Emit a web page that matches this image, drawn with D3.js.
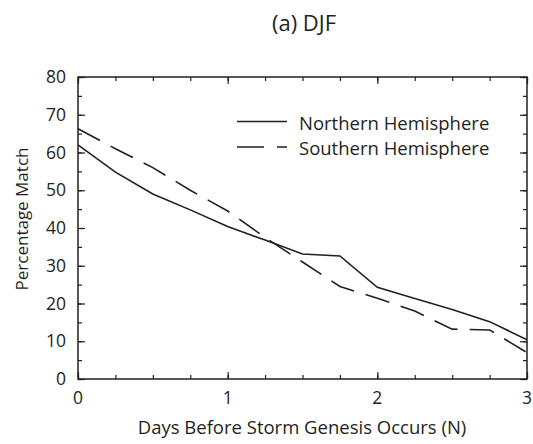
<!DOCTYPE html>
<html>
<head>
<meta charset="utf-8">
<script src="https://cdn.jsdelivr.net/npm/d3@7"></script>
<style>
  body { margin: 0; background: #fff; }
  text { font-family: "Open Sans", "Noto Sans", sans-serif; fill: #231f20; }
</style>
</head>
<body>
<script>
const days = [0, 0.25, 0.5, 0.75, 1, 1.25, 1.5, 1.75, 2, 2.25, 2.5, 2.75, 3];
const northern = [62, 54.8, 49, 44.8, 40.4, 36.8, 33.1, 32.6, 24.3, 21.3, 18.4, 15.2, 10.4];
const southern = [66.3, 61, 56, 50, 44.5, 37.5, 31, 24.5, 21.4, 18, 13.2, 13, 7];
const xTicks = [0, 1, 2, 3];
const yTicks = [0, 10, 20, 30, 40, 50, 60, 70, 80];
const seriesNames = ["Northern Hemisphere", "Southern Hemisphere"];

const width = 533, height = 444;
const margin = {top: 77, right: 6, bottom: 65, left: 78};
const ink = "#231f20";

const svg = d3.select("body").append("svg")
  .attr("width", width)
  .attr("height", height);

const x = d3.scaleLinear().domain([0, 3]).range([margin.left, width - margin.right]);
const y = d3.scaleLinear().domain([0, 80]).range([height - margin.bottom, margin.top]);

// minor + major ticks, drawn inward on all four sides
const minorX = d3.range(0, 3.001, 0.25);
const minorY = d3.range(0, 80.01, 5);

function tickAxis(axis, ticks, size) {
  return axis.tickValues(ticks).tickSize(size).tickSizeOuter(0).tickFormat("");
}

const gx = svg.append("g").attr("transform", `translate(0,${y(0)})`);
gx.call(tickAxis(d3.axisTop(x), minorX, 4));
gx.call(g => g.append("g").call(tickAxis(d3.axisTop(x), xTicks, 7)));
const gxt = svg.append("g").attr("transform", `translate(0,${y(80)})`);
gxt.call(tickAxis(d3.axisBottom(x), minorX, 4));
gxt.call(g => g.append("g").call(tickAxis(d3.axisBottom(x), xTicks, 7)));

const gy = svg.append("g").attr("transform", `translate(${x(0)},0)`);
gy.call(tickAxis(d3.axisRight(y), minorY, 4));
gy.call(g => g.append("g").call(tickAxis(d3.axisRight(y), yTicks, 7)));
const gyr = svg.append("g").attr("transform", `translate(${x(3)},0)`);
gyr.call(tickAxis(d3.axisLeft(y), minorY, 4));
gyr.call(g => g.append("g").call(tickAxis(d3.axisLeft(y), yTicks, 7)));

svg.selectAll(".domain").remove();
svg.selectAll(".tick line").attr("stroke", ink).attr("stroke-width", 1.2);

svg.append("rect")
  .attr("x", x(0)).attr("y", y(80))
  .attr("width", x(3) - x(0)).attr("height", y(0) - y(80))
  .attr("fill", "none").attr("stroke", ink).attr("stroke-width", 1.5);

// tick labels
svg.append("g").selectAll("text").data(xTicks).join("text")
  .attr("x", d => x(d)).attr("y", y(0) + 25)
  .attr("text-anchor", "middle").attr("font-size", 17.5)
  .text(d => d);
svg.append("g").selectAll("text").data(yTicks).join("text")
  .attr("x", x(0) - 12).attr("y", d => y(d) + 6)
  .attr("text-anchor", "end").attr("font-size", 17.5)
  .text(d => d);

// titles
svg.append("text").attr("x", 304).attr("y", 31)
  .attr("text-anchor", "middle").attr("font-size", 22).text("(a) DJF");
svg.append("text").attr("x", 302).attr("y", 434)
  .attr("text-anchor", "middle").attr("font-size", 18.5)
  .text("Days Before Storm Genesis Occurs (N)");
svg.append("text")
  .attr("transform", `translate(28,219) rotate(-90)`)
  .attr("text-anchor", "middle").attr("font-size", 17)
  .text("Percentage Match");

// lines
const line = d3.line().x((d, i) => x(days[i])).y(d => y(d));
svg.append("path").datum(northern)
  .attr("d", line).attr("fill", "none").attr("stroke", ink).attr("stroke-width", 1.6);
svg.append("path").datum(southern)
  .attr("d", line).attr("fill", "none").attr("stroke", ink).attr("stroke-width", 1.6)
  .attr("stroke-dasharray", "25,12");

// legend
const legend = svg.append("g");
seriesNames.forEach((name, i) => {
  const ly = 121.5 + i * 25.5;
  legend.append("line")
    .attr("x1", 237).attr("x2", 287).attr("y1", ly).attr("y2", ly)
    .attr("stroke", ink).attr("stroke-width", 1.6)
    .attr("stroke-dasharray", i ? "27,13" : null);
  legend.append("text")
    .attr("x", 299).attr("y", ly + 8).attr("font-size", 18.5).text(name);
});
</script>
</body>
</html>
